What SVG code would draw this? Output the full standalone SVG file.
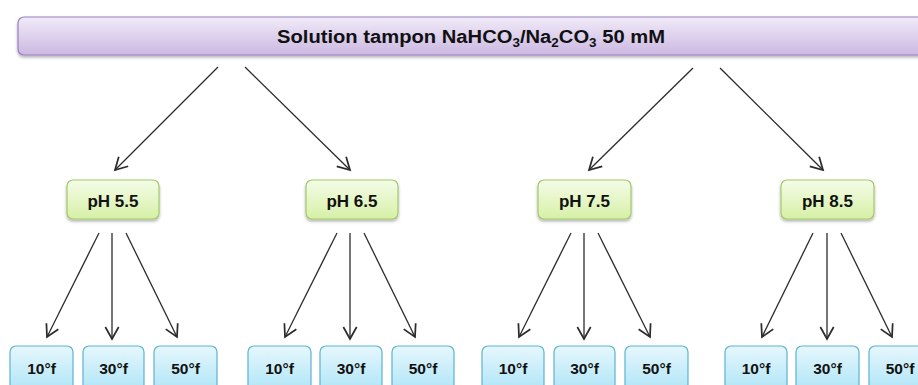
<svg xmlns="http://www.w3.org/2000/svg" width="918" height="385" viewBox="0 0 918 385">
<defs>
<linearGradient id="gPurple" x1="0" y1="0" x2="0" y2="1">
<stop offset="0" stop-color="#f1ebf8"/>
<stop offset="1" stop-color="#cbb8e2"/>
</linearGradient>
<linearGradient id="gGreen" x1="0" y1="0" x2="0" y2="1">
<stop offset="0" stop-color="#f5fce8"/>
<stop offset="1" stop-color="#d6f0a6"/>
</linearGradient>
<linearGradient id="gBlue" x1="0" y1="0" x2="0" y2="1">
<stop offset="0" stop-color="#e6f7fd"/>
<stop offset="1" stop-color="#a9e3f6"/>
</linearGradient>
<filter id="sh" x="-10%" y="-20%" width="120%" height="150%">
<feDropShadow dx="0" dy="2" stdDeviation="1.5" flood-color="#000" flood-opacity="0.3"/>
</filter>
<marker id="arr" markerUnits="userSpaceOnUse" markerWidth="16" markerHeight="16" refX="10" refY="6" orient="auto" viewBox="0 0 12 12">
<path d="M1,1 L10,6 L1,11" fill="none" stroke="#2b2b2b" stroke-width="1.3"/>
</marker>
</defs>
<style>
.top{fill:url(#gPurple);stroke:#9a80c0;stroke-width:1.2;filter:url(#sh)}
.ph{fill:url(#gGreen);stroke:#a3c96a;stroke-width:1.2;filter:url(#sh)}
.tb{fill:url(#gBlue);stroke:#5ab4d0;stroke-width:1.2}
text{font-family:"Liberation Sans",Arial,sans-serif;font-weight:bold;fill:#111;text-anchor:middle}
.t1{font-size:18px}
.t2{font-size:17px}
.t3{font-size:15.5px}
.c line{stroke:#2b2b2b;stroke-width:1.3;marker-end:url(#arr)}
</style>
<g id="buffer">
<rect class="top" x="18" y="17" width="912" height="38" rx="6"/>
<text class="t1" x="471" y="43" textLength="388" lengthAdjust="spacingAndGlyphs">Solution tampon NaHCO<tspan font-size="12" dy="4">3</tspan><tspan dy="-4">/Na</tspan><tspan font-size="12" dy="4">2</tspan><tspan dy="-4">CO</tspan><tspan font-size="12" dy="4">3</tspan><tspan dy="-4"> 50 mM</tspan></text>
</g>
<g class="c" id="connectors">
<line x1="218" y1="67" x2="115" y2="170"/>
<line x1="245" y1="67" x2="350" y2="170"/>
<line x1="693" y1="68" x2="589" y2="170"/>
<line x1="720" y1="68" x2="823" y2="170"/>
<line x1="99" y1="233" x2="47" y2="337"/>
<line x1="112" y1="233" x2="112" y2="339"/>
<line x1="126" y1="233" x2="177" y2="337"/>
<line x1="337" y1="233" x2="285" y2="337"/>
<line x1="350" y1="233" x2="350" y2="339"/>
<line x1="364" y1="233" x2="415" y2="337"/>
<line x1="571" y1="233" x2="519" y2="337"/>
<line x1="584" y1="233" x2="584" y2="339"/>
<line x1="598" y1="233" x2="650" y2="337"/>
<line x1="813" y1="233" x2="762" y2="337"/>
<line x1="827" y1="233" x2="827" y2="339"/>
<line x1="841" y1="233" x2="892" y2="337"/>
</g>
<g id="ph55"><rect class="ph" x="67" y="180" width="92" height="39" rx="6"/><text class="t2" x="113" y="206.5">pH 5.5</text></g>
<g id="ph65"><rect class="ph" x="306" y="180" width="92" height="39" rx="6"/><text class="t2" x="352" y="206.5">pH 6.5</text></g>
<g id="ph75"><rect class="ph" x="538" y="180" width="93" height="39" rx="6"/><text class="t2" x="584.5" y="206.5">pH 7.5</text></g>
<g id="ph85"><rect class="ph" x="781" y="180" width="93" height="39" rx="6"/><text class="t2" x="827.5" y="206.5">pH 8.5</text></g>
<g id="b1"><rect class="tb" x="10" y="346" width="63" height="50" rx="6"/><text class="t3" x="41.5" y="374">10°f</text></g>
<g id="b2"><rect class="tb" x="83" y="346" width="61" height="50" rx="6"/><text class="t3" x="113.5" y="374">30°f</text></g>
<g id="b3"><rect class="tb" x="154" y="346" width="63" height="50" rx="6"/><text class="t3" x="185.5" y="374">50°f</text></g>
<g id="b4"><rect class="tb" x="248" y="346" width="63" height="50" rx="6"/><text class="t3" x="279.5" y="374">10°f</text></g>
<g id="b5"><rect class="tb" x="320" y="346" width="62" height="50" rx="6"/><text class="t3" x="351" y="374">30°f</text></g>
<g id="b6"><rect class="tb" x="392" y="346" width="62" height="50" rx="6"/><text class="t3" x="423" y="374">50°f</text></g>
<g id="b7"><rect class="tb" x="482" y="346" width="62" height="50" rx="6"/><text class="t3" x="513" y="374">10°f</text></g>
<g id="b8"><rect class="tb" x="554" y="346" width="61" height="50" rx="6"/><text class="t3" x="584.5" y="374">30°f</text></g>
<g id="b9"><rect class="tb" x="625" y="346" width="63" height="50" rx="6"/><text class="t3" x="656.5" y="374">50°f</text></g>
<g id="b10"><rect class="tb" x="725" y="346" width="62" height="50" rx="6"/><text class="t3" x="756" y="374">10°f</text></g>
<g id="b11"><rect class="tb" x="796" y="346" width="63" height="50" rx="6"/><text class="t3" x="827.5" y="374">30°f</text></g>
<g id="b12"><rect class="tb" x="869" y="346" width="63" height="50" rx="6"/><text class="t3" x="900" y="374">50°f</text></g>
</svg>
